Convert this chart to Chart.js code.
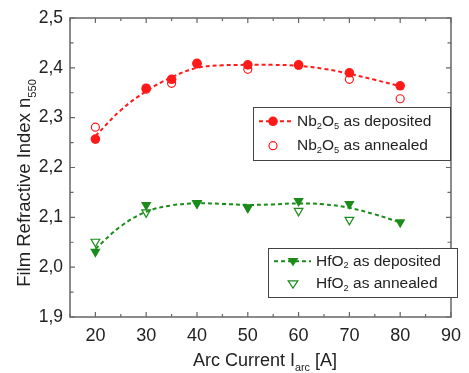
<!DOCTYPE html>
<html>
<head>
<meta charset="utf-8">
<script src="https://cdn.jsdelivr.net/npm/chart.js@4/dist/chart.umd.min.js"></script>
<style>
  html, body { margin: 0; padding: 0; background: #fff; }
  #wrap { width: 469px; height: 373px; }
</style>
</head>
<body>
<div id="wrap"><canvas id="c"></canvas></div>
<script>
// measured values (arc current in A, refractive index at 550 nm)
const arcCurrent = [20, 30, 35, 40, 50, 60, 70, 80];
const nbDeposited = [2.257, 2.359, 2.377, 2.409, 2.406, 2.406, 2.390, 2.364];
const nbAnnealed = [2.281, 2.357, 2.369, 2.408, 2.397, 2.405, 2.377, 2.338];

const hfCurrent = [20, 30, 40, 50, 60, 70, 80];
const hfDeposited = [2.031, 2.125, 2.129, 2.119, 2.133, 2.127, 2.090];
const hfAnnealed = [2.051, 2.110, 2.128, 2.120, 2.113, 2.095, null];

// fit curves
const fitCurrent = [20, 25, 30, 35, 40, 45, 50, 55, 60, 65, 70, 75, 80];
const nbFit = [2.263, 2.315, 2.353, 2.381, 2.400, 2.405, 2.406, 2.406, 2.404, 2.398, 2.388, 2.376, 2.363];
const hfFit = [2.037, 2.082, 2.111, 2.124, 2.128, 2.127, 2.125, 2.126, 2.128, 2.126, 2.119, 2.106, 2.090];

const xTicks = [20, 30, 40, 50, 60, 70, 80, 90];
const yTicks = [1.9, 2.0, 2.1, 2.2, 2.3, 2.4, 2.5];

const RED = '#ff1a1a';
const GREEN = '#1a8c1a';
const TXT = '#222';
const FONT = '"Liberation Sans", Arial, sans-serif';

const pts = (xs, ys) => xs.map((x, i) => ({ x: x, y: ys[i] }));

// text with subscripts: parts = [[text, isSub], ...]
function richWidth(ctx, parts, size) {
  let w = 0;
  parts.forEach(([t, sub]) => {
    ctx.font = (sub ? size * 0.6 : size) + 'px ' + FONT;
    w += ctx.measureText(t).width;
  });
  return w;
}
function drawRich(ctx, parts, x, y, size) {
  parts.forEach(([t, sub]) => {
    ctx.font = (sub ? size * 0.6 : size) + 'px ' + FONT;
    ctx.fillText(t, x, sub ? y + size * 0.3 : y);
    x += ctx.measureText(t).width;
  });
}

const framePlugin = {
  id: 'frame',
  afterDraw(chart) {
    const ctx = chart.ctx, a = chart.chartArea;
    const xs = chart.scales.x, ys = chart.scales.y;
    ctx.save();
    ctx.strokeStyle = '#666';
    ctx.lineWidth = 1.5;
    ctx.strokeRect(a.left, a.top, a.right - a.left, a.bottom - a.top);
    ctx.lineWidth = 1.2;
    ctx.beginPath();
    for (let v = 15; v <= 90; v += 5) {
      const px = xs.getPixelForValue(v);
      const len = v % 10 === 0 ? 5 : 3;
      ctx.moveTo(px, a.bottom); ctx.lineTo(px, a.bottom - len);
      ctx.moveTo(px, a.top); ctx.lineTo(px, a.top + len);
    }
    for (let i = 0; i <= 12; i++) {
      const py = ys.getPixelForValue(1.9 + i * 0.05);
      const len = i % 2 === 0 ? 5 : 3.5;
      ctx.moveTo(a.left, py); ctx.lineTo(a.left + len, py);
      ctx.moveTo(a.right, py); ctx.lineTo(a.right - len, py);
    }
    ctx.stroke();

    // axis titles
    ctx.fillStyle = TXT;
    ctx.textBaseline = 'alphabetic';
    const xt = [['Arc Current I', false], ['arc', true], [' [A]', false]];
    const xw = richWidth(ctx, xt, 18);
    drawRich(ctx, xt, 265 - xw / 2, 366, 18);

    const yt = [['Film Refractive Index n', false], ['550', true]];
    const yw = richWidth(ctx, yt, 18.5);
    ctx.translate(30, 183);
    ctx.rotate(-Math.PI / 2);
    drawRich(ctx, yt, -yw / 2, 0, 18.5);
    ctx.restore();

    drawLegend(ctx, 253, 107, 197, 53, RED, 'circle', 'Nb', '2', 'O', '5');
    drawLegend(ctx, 268, 248, 189, 49, GREEN, 'triangle', 'Hf', null, 'O', '2');
  }
};

function marker(ctx, kind, filled, color, x, y) {
  ctx.save();
  ctx.fillStyle = color; ctx.strokeStyle = color; ctx.lineWidth = 1.2;
  ctx.setLineDash([]);
  ctx.beginPath();
  if (kind === 'circle') {
    ctx.arc(x, y, filled ? 4.8 : 4, 0, Math.PI * 2);
  } else {
    const r = filled ? 5.5 : 4.8;
    ctx.moveTo(x - r, y - r * 0.6);
    ctx.lineTo(x + r, y - r * 0.6);
    ctx.lineTo(x, y + r * 0.9);
    ctx.closePath();
  }
  filled ? ctx.fill() : ctx.stroke();
  ctx.restore();
}

function drawLegend(ctx, x, y, w, h, color, kind, a1, s1, a2, s2) {
  ctx.save();
  ctx.fillStyle = '#fff';
  ctx.fillRect(x, y, w, h);
  ctx.strokeStyle = '#444';
  ctx.lineWidth = 1;
  ctx.strokeRect(x + 0.5, y + 0.5, w, h);
  const row1 = y + h * 0.27, row2 = y + h * 0.73;
  const lx = x + 6, mx = kind === 'circle' ? x + 20 : x + 25;
  const len = kind === 'circle' ? 35 : 37;
  ctx.strokeStyle = color;
  ctx.lineWidth = 2;
  ctx.setLineDash([4, 3]);
  ctx.beginPath();
  ctx.moveTo(lx, row1); ctx.lineTo(lx + len, row1);
  ctx.stroke();
  marker(ctx, kind, true, color, mx, row1);
  marker(ctx, kind, false, color, mx, row2);
  ctx.fillStyle = TXT;
  ctx.textBaseline = 'middle';
  const tx = kind === 'circle' ? x + 44 : x + 48;
  const base = [[a1, false]];
  if (s1) base.push([s1, true]);
  base.push([a2, false], [s2, true]);
  drawRich(ctx, base.concat([[' as deposited', false]]), tx, row1, 15.5);
  drawRich(ctx, base.concat([[' as annealed', false]]), tx, row2, 15.5);
  ctx.restore();
}

new Chart(document.getElementById('c'), {
  type: 'scatter',
  data: {
    datasets: [
      { data: pts(fitCurrent, nbFit), showLine: true, tension: 0.4, borderColor: RED,
        borderWidth: 2, borderDash: [4, 3], pointRadius: 0 },
      { data: pts(fitCurrent, hfFit), showLine: true, tension: 0.4, borderColor: GREEN,
        borderWidth: 2, borderDash: [4, 3], pointRadius: 0 },
      { data: pts(arcCurrent, nbAnnealed), pointStyle: 'circle', pointRadius: 4,
        backgroundColor: 'rgba(0,0,0,0)', borderColor: RED, borderWidth: 1.2 },
      { data: pts(arcCurrent, nbDeposited), pointStyle: 'circle', pointRadius: 4.8,
        backgroundColor: RED, borderColor: RED, borderWidth: 0 },
      { data: pts(hfCurrent, hfAnnealed), pointStyle: 'triangle', rotation: 180, pointRadius: 5,
        backgroundColor: 'rgba(0,0,0,0)', borderColor: GREEN, borderWidth: 1.2 },
      { data: pts(hfCurrent, hfDeposited), pointStyle: 'triangle', rotation: 180, pointRadius: 6,
        backgroundColor: GREEN, borderColor: GREEN, borderWidth: 0 }
    ]
  },
  options: {
    responsive: true,
    maintainAspectRatio: false,
    animation: false,
    layout: { padding: { left: 0, top: 18, right: 9, bottom: 0 } },
    plugins: { legend: { display: false }, tooltip: { enabled: false } },
    scales: {
      x: {
        type: 'linear', min: 15, max: 90,
        grid: { display: false, drawTicks: false },
        border: { display: false },
        afterBuildTicks: s => { s.ticks = xTicks.map(v => ({ value: v })); },
        afterFit: s => { s.height = 56; },
        ticks: { color: TXT, padding: 8, font: { size: 18, family: FONT }, maxRotation: 0 }
      },
      y: {
        min: 1.9, max: 2.5,
        grid: { display: false, drawTicks: false },
        border: { display: false },
        afterBuildTicks: s => { s.ticks = yTicks.map(v => ({ value: v })); },
        afterFit: s => { s.width = 70; },
        ticks: { color: TXT, padding: 7, font: { size: 17.5, family: FONT },
          callback: v => v.toFixed(1).replace('.', ',') }
      }
    }
  },
  plugins: [framePlugin]
});
</script>
</body>
</html>
